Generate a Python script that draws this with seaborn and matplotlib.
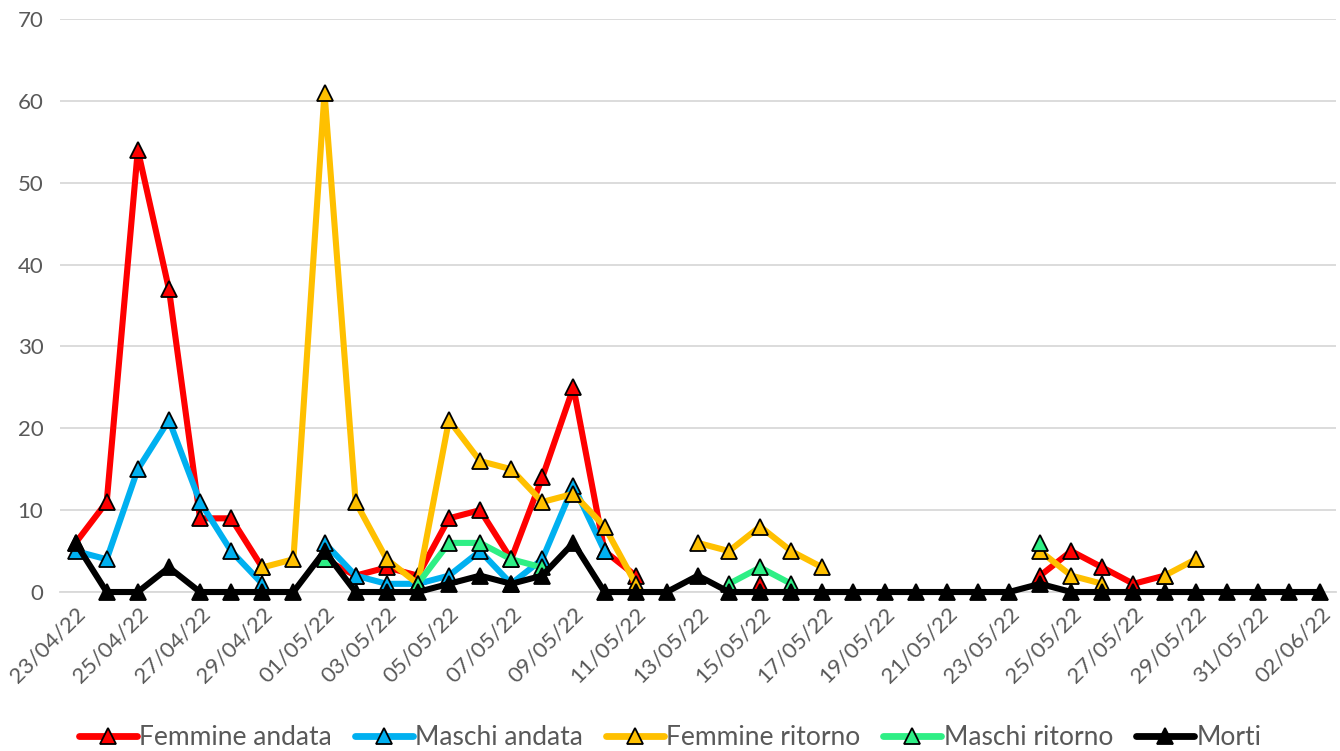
import matplotlib
matplotlib.use("Agg")
import matplotlib.pyplot as plt
from matplotlib.lines import Line2D
import seaborn as sns
import numpy as np
import pandas as pd

# categories: one per day, 23/04/22 .. 02/06/22
dates = pd.date_range("2022-04-23", "2022-06-02", freq="D")
date_labels = [d.strftime("%d/%m/%y") for d in dates]

N = None
femmine_andata = [6, 11, 54, 37, 9, 9, 3, N, 4, 2, 3, 2, 9, 10, 4, 14, 25, 5, 2, N,
                  N, N, 1, N, N, N, N, N, N, N, N, 2, 5, 3, 1, 2, N, N, N, N, N]
maschi_andata = [5, 4, 15, 21, 11, 5, 1, N, 6, 2, 1, 1, 2, 5, 1, 4, 13, 5, N, N,
                 N, N, N, N, N, N, N, N, N, N, N, N, N, N, N, N, N, N, N, N, N]
femmine_ritorno = [N, N, N, N, N, N, 3, 4, 61, 11, 4, 1, 21, 16, 15, 11, 12, 8, 1, N,
                   6, 5, 8, 5, 3, N, N, N, N, N, N, 5, 2, 1, N, 2, 4, N, N, N, N]
maschi_ritorno = [N, N, N, N, N, N, N, N, 4, N, N, 1, 6, 6, 4, 3, N, N, N, N,
                  N, 1, 3, 1, N, N, N, N, N, N, N, 6, N, N, N, N, N, N, N, N, N]
morti = [6, 0, 0, 3, 0, 0, 0, 0, 5, 0, 0, 0, 1, 2, 1, 2, 6, 0, 0, 0,
         2, 0, 0, 0, 0, 0, 0, 0, 0, 0, 0, 1, 0, 0, 0, 0, 0, 0, 0, 0, 0]

series_names = ["Femmine andata", "Maschi andata", "Femmine ritorno", "Maschi ritorno", "Morti"]
series_values = [femmine_andata, maschi_andata, femmine_ritorno, maschi_ritorno, morti]
colors = ["#FF0000", "#00B0F0", "#FFC000", "#2EEF85", "#000000"]

sns.set_theme(style="white")
plt.rcParams["font.family"] = ["Lato", "DejaVu Sans"]

fig = plt.figure(figsize=(13.4, 7.51), dpi=100)
ax = fig.add_axes([0.0448, 0.2117, 0.952, 0.763])

x = np.arange(len(dates))
lw = 4.4
ms = 11

for name, vals, col in zip(series_names, series_values, colors):
    df = pd.DataFrame({"x": x, "y": pd.to_numeric(pd.Series(vals), errors="coerce")})
    # split into contiguous runs so gaps stay open
    df["seg"] = df["y"].isna().cumsum()
    df = df.dropna()
    for _, seg in df.groupby("seg"):
        sns.lineplot(data=seg, x="x", y="y", ax=ax, color=col, linewidth=lw,
                     marker="^", markersize=ms, markerfacecolor=col,
                     markeredgecolor="black", markeredgewidth=1.3,
                     clip_on=False, zorder=3, legend=False)

ax.set_xlim(-0.5, len(dates) - 0.5)
ax.set_ylim(0, 70)
ax.set_yticks(range(0, 71, 10))
ax.set_xticks(x[::2])
ax.set_xticklabels(date_labels[::2], rotation=45, ha="right", rotation_mode="anchor")
ax.set_xticks(np.arange(-0.5, len(dates), 2), minor=True)
ax.tick_params(axis="x", which="major", length=0, pad=8, labelsize=16, labelcolor="#595959")
ax.tick_params(axis="x", which="minor", length=6, width=1.2, color="#D9D9D9")
ax.tick_params(axis="y", length=0, pad=12, labelsize=16, labelcolor="#595959")
ax.set_xlabel("")
ax.set_ylabel("")

ax.grid(axis="y", color="#D9D9D9", linewidth=1.3)
ax.set_axisbelow(True)
for s in ["top", "right", "left"]:
    ax.spines[s].set_visible(False)
ax.spines["bottom"].set_color("#D9D9D9")
ax.spines["bottom"].set_linewidth(1.3)

handles = [Line2D([0], [0], color=c, linewidth=lw + 0.5, marker="^", markersize=ms,
                  markerfacecolor=c, markeredgecolor="black", markeredgewidth=1.3)
           for c in colors]
fig.legend(handles, series_names, loc="center", bbox_to_anchor=(0.5, 0.018), ncol=5,
           frameon=False, fontsize=19, handlelength=2.2, handletextpad=0.1,
           columnspacing=0.85, labelcolor="#595959")

fig.savefig("out.png", dpi=100)
